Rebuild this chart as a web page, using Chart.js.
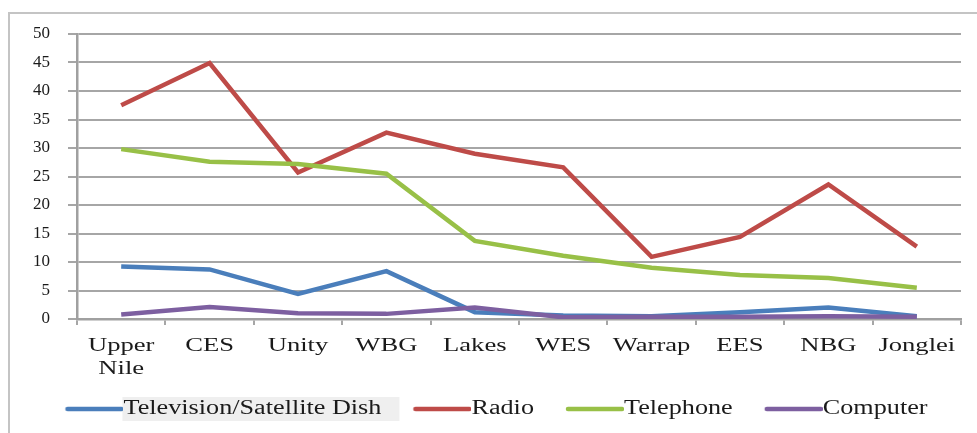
<!DOCTYPE html>
<html>
<head>
<meta charset="utf-8">
<script src="https://cdn.jsdelivr.net/npm/chart.js@4"></script>
<style>
  html, body { margin: 0; padding: 0; background: #ffffff; }
  #wrap { position: relative; width: 977px; height: 433px; overflow: hidden; }
  #frame { position: absolute; left: 8px; top: 12px; width: 980px; height: 440px;
           border-top: 2px solid #c4c4c4; border-left: 2px solid #c4c4c4; box-sizing: border-box; }
  canvas { position: absolute; left: 0; top: 0; }
</style>
</head>
<body>
<div id="wrap">
  <div id="frame"></div>
  <canvas id="c" width="977" height="433"></canvas>
</div>
<script>
const categories = [['Upper', 'Nile'], 'CES', 'Unity', 'WBG', 'Lakes', 'WES', 'Warrap', 'EES', 'NBG', 'Jonglei'];
const seriesNames = ['Television/Satellite Dish', 'Radio', 'Telephone', 'Computer'];
const tvValues        = [9.2, 8.7, 4.4, 8.4, 1.2, 0.6, 0.5, 1.2, 2.0, 0.5];
const radioValues     = [37.5, 44.9, 25.7, 32.7, 29.0, 26.6, 10.9, 14.4, 23.6, 12.7];
const telephoneValues = [29.8, 27.6, 27.2, 25.5, 13.7, 11.1, 9.0, 7.7, 7.2, 5.5];
const computerValues  = [0.8, 2.1, 1.0, 0.9, 2.0, 0.3, 0.4, 0.4, 0.5, 0.4];
const yTicks = [0, 5, 10, 15, 20, 25, 30, 35, 40, 45, 50];

const colors = ['#4a7ebb', '#be4b48', '#98c047', '#7d5fa0'];
const allValues = [tvValues, radioValues, telephoneValues, computerValues];

const LEGEND_FONT = 20;
const LEGEND_BOX = 70;     // legend box width (includes leading gap)
const LEGEND_LINE = 58;    // visible legend line length
const LEGEND_STRETCH = 1.31;
const XLABEL_STRETCH = 1.4;

function legendImage(color) {
  const w = 2 * (LEGEND_BOX + LEGEND_FONT / 2 - LEGEND_BOX / 2), h = 10;
  const cv = document.createElement('canvas');
  cv.width = Math.round(w); cv.height = h;
  const c = cv.getContext('2d');
  c.strokeStyle = color;
  c.lineWidth = 4.5;
  c.lineCap = 'round';
  c.beginPath();
  c.moveTo(cv.width - LEGEND_LINE + 2, h / 2);
  c.lineTo(cv.width - 2, h / 2);
  c.stroke();
  return cv;
}

// draw text horizontally stretched, as in the reference picture
function withStretch(ctx, k, fn) {
  const ft = CanvasRenderingContext2D.prototype.fillText;
  const mt = CanvasRenderingContext2D.prototype.measureText;
  ctx.fillText = function (t, x, y) {
    this.save(); this.translate(x, y); this.scale(k, 1); ft.call(this, t, 0, 0); this.restore();
  };
  ctx.measureText = function (t) {
    const m = mt.call(this, t);
    return {
      width: m.width * k,
      actualBoundingBoxAscent: m.actualBoundingBoxAscent,
      actualBoundingBoxDescent: m.actualBoundingBoxDescent,
      actualBoundingBoxLeft: m.actualBoundingBoxLeft * k,
      actualBoundingBoxRight: m.actualBoundingBoxRight * k,
      fontBoundingBoxAscent: m.fontBoundingBoxAscent,
      fontBoundingBoxDescent: m.fontBoundingBoxDescent
    };
  };
  try { return fn(); } finally { delete ctx.fillText; delete ctx.measureText; }
}

const textTweaks = {
  id: 'textTweaks',
  afterInit(chart) {
    const lg = chart.legend;
    if (lg && !lg._wrapped) {
      const origFit = lg.fit, origDraw = lg.draw;
      lg.fit = function () { return withStretch(this.ctx, LEGEND_STRETCH, () => origFit.apply(this, arguments)); };
      lg.draw = function () { return withStretch(this.ctx, LEGEND_STRETCH, () => origDraw.apply(this, arguments)); };
      lg._wrapped = true;
    }
  },
  beforeDraw(chart) {
    const sx = chart.scales.x;
    if (sx && !sx._wrapped) {
      const orig = sx.drawLabels;
      sx.drawLabels = function () { return withStretch(this.ctx, XLABEL_STRETCH, () => orig.apply(this, arguments)); };
      sx._wrapped = true;
    }
    const lg = chart.legend;
    if (!lg || !lg.legendHitBoxes || !lg.legendHitBoxes.length) return;
    const hb = lg.legendHitBoxes[0];
    const ctx = chart.ctx;
    ctx.save();
    ctx.fillStyle = '#efefef';
    const x0 = hb.left + LEGEND_BOX + LEGEND_FONT / 2 - 1;
    const x1 = hb.left + hb.width + 18;
    const cy = hb.top + hb.height / 2;
    ctx.fillRect(x0, cy - 12, x1 - x0, 24);
    ctx.restore();
  }
};

new Chart(document.getElementById('c'), {
  type: 'line',
  data: {
    labels: categories,
    datasets: seriesNames.map((name, i) => ({
      label: name,
      data: allValues[i],
      borderColor: colors[i],
      backgroundColor: colors[i],
      borderWidth: 4.5,
      pointRadius: 0,
      pointStyle: legendImage(colors[i]),
      tension: 0,
      fill: false,
      order: 4 - i
    }))
  },
  options: {
    responsive: false,
    animation: false,
    devicePixelRatio: 1,
    layout: { padding: { left: 10, right: 16, top: 34, bottom: 4 } },
    plugins: {
      tooltip: { enabled: false },
      legend: {
        position: 'bottom',
        align: 'center',
        labels: {
          usePointStyle: true,
          pointStyleWidth: LEGEND_BOX,
          boxHeight: 10,
          padding: 10,
          color: '#1a1a1a',
          font: { family: 'Liberation Serif', size: LEGEND_FONT },
          sort: (a, b) => a.datasetIndex - b.datasetIndex
        }
      }
    },
    scales: {
      x: {
        offset: true,
        grid: { display: true, drawOnChartArea: false, offset: true, tickLength: 6, color: '#a6a6a6', lineWidth: 2 },
        border: { display: true, color: '#a0a0a0', width: 2.5 },
        ticks: { color: '#1a1a1a', padding: 10, maxRotation: 0, autoSkip: false,
                 font: { family: 'Liberation Serif', size: 19, lineHeight: 1.2 } },
        afterFit(scale) { scale.height = 70; }
      },
      y: {
        min: 0,
        max: 50,
        afterBuildTicks(scale) { scale.ticks = yTicks.map(v => ({ value: v })); },
        grid: { color: '#a6a6a6', lineWidth: 2, tickLength: 9 },
        border: { display: true, color: '#a0a0a0', width: 2.5 },
        ticks: { color: '#1a1a1a', padding: 18, font: { family: 'Liberation Serif', size: 17 } },
        afterFit(scale) { scale.width = 67; }
      }
    }
  },
  plugins: [textTweaks]
});
</script>
</body>
</html>
